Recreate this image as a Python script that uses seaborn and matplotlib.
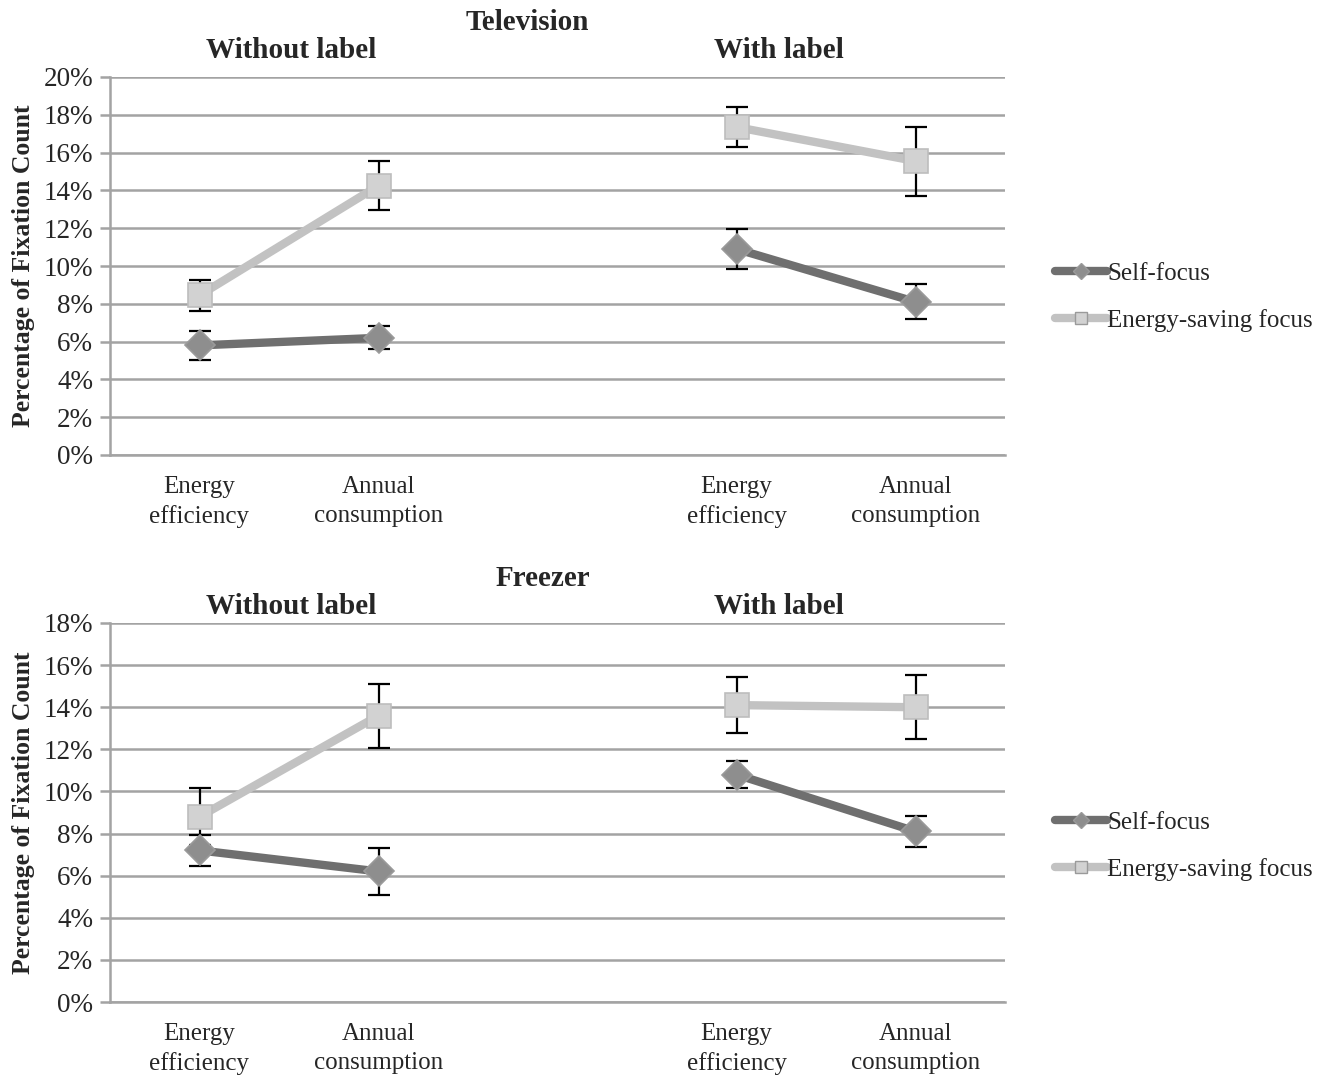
import seaborn as sns
import matplotlib.pyplot as plt
import matplotlib.ticker as mticker
from matplotlib.lines import Line2D
import pandas as pd

sns.set_style('white')
plt.rcParams['font.family'] = ['Liberation Serif', 'DejaVu Serif']

# data (percent of fixation count)
categories = ['Energy\nefficiency', 'Annual\nconsumption']
conditions = ['Without label', 'With label']
series = ['Self-focus', 'Energy-saving focus']

tv_self = [5.8, 6.2, 10.9, 8.1]
tv_self_err = [0.78, 0.61, 1.08, 0.93]
tv_energy = [8.45, 14.25, 17.35, 15.55]
tv_energy_err = [0.82, 1.3, 1.08, 1.83]

fr_self = [7.2, 6.2, 10.8, 8.1]
fr_self_err = [0.72, 1.1, 0.66, 0.75]
fr_energy = [8.8, 13.6, 14.1, 14.0]
fr_energy_err = [1.35, 1.52, 1.33, 1.52]

tv_ymax = 20
fr_ymax = 18

line_colors = {'Self-focus': '#6f6f6f', 'Energy-saving focus': '#c2c2c2'}
marker_face = {'Self-focus': '#8e8e8e', 'Energy-saving focus': '#d2d2d2'}
markers = {'Self-focus': 'D', 'Energy-saving focus': 's'}
marker_sizes = {'Self-focus': 15, 'Energy-saving focus': 17}
grid_color = '#a3a3a3'


def build_frame(self_vals, self_err, energy_vals, energy_err):
    """Long table: slot position 0,1 for 'Without label', 3,4 for 'With label'."""
    rows = []
    positions = [0, 1, 3, 4]
    for s, vals, errs in [(series[0], self_vals, self_err), (series[1], energy_vals, energy_err)]:
        for i, (v, e) in enumerate(zip(vals, errs)):
            rows.append({'series': s, 'pos': positions[i], 'value': v, 'err': e,
                         'condition': conditions[i // 2]})
    return pd.DataFrame(rows)


def draw_panel(ax, df, ymax):
    for cond in conditions:
        sub = df[df['condition'] == cond]
        for s in series:
            d = sub[sub['series'] == s]
            ax.errorbar(d['pos'], d['value'], yerr=d['err'], fmt='none', ecolor='black',
                        elinewidth=1.6, capsize=8, capthick=1.6, zorder=3)
        sns.lineplot(data=sub, x='pos', y='value', hue='series', style='series',
                     palette=line_colors, markers=markers, dashes=False, estimator=None,
                     linewidth=6, legend=False, ax=ax, zorder=4)
    # restyle markers
    for line in ax.get_lines():
        if line.get_marker() in ('D', 's'):
            s = 'Self-focus' if line.get_marker() == 'D' else 'Energy-saving focus'
            line.set_markersize(marker_sizes[s])
            line.set_markerfacecolor(marker_face[s])
            line.set_markeredgecolor('#9a9a9a' if s == 'Self-focus' else '#bdbdbd')
            line.set_markeredgewidth(1.2)

    ax.set_xlim(-0.5, 4.5)
    ax.set_ylim(0, ymax)
    ax.set_yticks(range(0, ymax + 1, 2))
    ax.yaxis.set_major_formatter(mticker.FuncFormatter(lambda v, p: f'{v:.0f}%'))
    ax.set_xticks([0, 1, 3, 4])
    ax.set_xticklabels(categories * 2, linespacing=1.4)
    ax.set_xticks([-0.5, 0.5, 1.5, 2.5, 3.5, 4.5], minor=True)
    ax.tick_params(axis='x', which='major', length=0, pad=15, labelsize=18)
    ax.tick_params(axis='x', which='minor', length=7, width=1.8, color=grid_color, direction='out')
    ax.tick_params(axis='y', length=7, width=1.8, color=grid_color, direction='out',
                   labelsize=19.5, pad=5, left=True)
    ax.yaxis.grid(True, color=grid_color, linewidth=1.8)
    ax.set_axisbelow(True)
    for side in ['top', 'right']:
        ax.spines[side].set_visible(False)
    for side in ['left', 'bottom']:
        ax.spines[side].set_color(grid_color)
        ax.spines[side].set_linewidth(1.8)
    ax.set_xlabel('')
    ax.set_ylabel('Percentage of Fixation Count', fontsize=18.5, fontweight='bold')
    ax.yaxis.set_label_coords(-0.084, 0.5)


W, H = 1322, 1078
fig = plt.figure(figsize=(W / 100, H / 100), dpi=100)

ax_tv = fig.add_axes([110 / W, 1 - 455 / H, 895 / W, 378 / H])
ax_fr = fig.add_axes([110 / W, 1 - 1002 / H, 895 / W, 379 / H])

draw_panel(ax_tv, build_frame(tv_self, tv_self_err, tv_energy, tv_energy_err), tv_ymax)
draw_panel(ax_fr, build_frame(fr_self, fr_self_err, fr_energy, fr_energy_err), fr_ymax)

# titles
for title, tx, ty, gy in [('Television', 527, 22, 50), ('Freezer', 543, 578, 606)]:
    fig.text(tx / W, 1 - ty / H, title, ha='center', va='center', fontsize=21, fontweight='bold')
    fig.text(291 / W, 1 - gy / H, conditions[0], ha='center', va='center', fontsize=21, fontweight='bold')
    fig.text(779 / W, 1 - gy / H, conditions[1], ha='center', va='center', fontsize=21, fontweight='bold')

# legends
handles = [Line2D([], [], color=line_colors[s], linewidth=6, marker=markers[s],
                  markersize=marker_sizes[s] * 0.55, markerfacecolor=marker_face[s],
                  markeredgecolor='#9a9a9a') for s in series]
for ly in [297, 846]:
    fig.legend(handles, series, loc='center left', bbox_to_anchor=(1042 / W, 1 - ly / H),
               frameon=False, fontsize=18, handlelength=2.1, handletextpad=0.0,
               labelspacing=0.95, borderpad=0)

fig.savefig('out.png', dpi=100)
